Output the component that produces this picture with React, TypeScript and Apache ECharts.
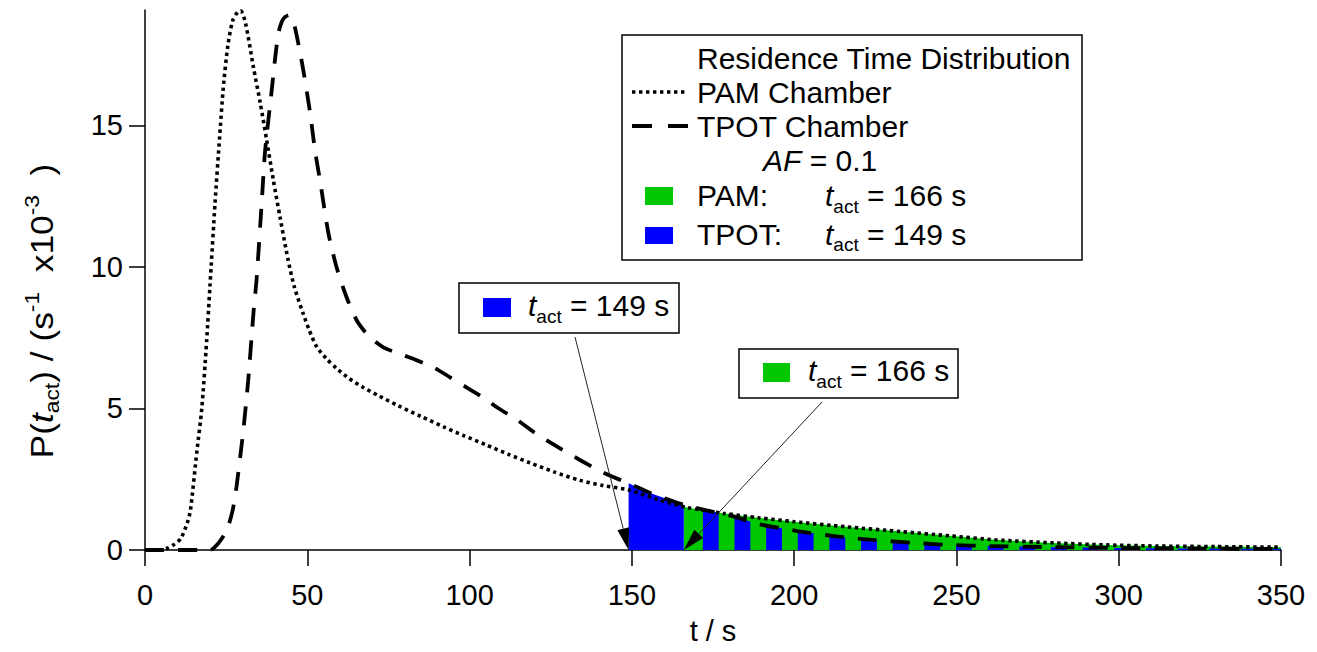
import React, { useEffect, useRef } from 'react';
import * as echarts from 'echarts';

const FONT = "'Liberation Sans', Arial, Helvetica, sans-serif";

const xTicks = [0, 50, 100, 150, 200, 250, 300, 350];
const yTicks = [0, 5, 10, 15];

// PAM chamber residence time distribution (dotted)
const pamTime = [0, 5, 7, 9, 11, 13, 14, 16, 17.5, 19, 20, 21.6, 23, 24.1, 25.5, 27, 28.5, 29.5, 31, 33.4, 35.5, 37.5, 39.5, 41.6, 44, 46, 48.7, 50.5, 52.9, 56, 59, 63, 67, 72, 78, 85, 92, 98, 105, 112, 118.6, 126, 134, 141, 149, 158, 167, 178, 189, 200, 216, 233, 248, 262, 280, 296, 312, 330, 350];
const pamValue = [0, 0, 0.07, 0.2, 0.4, 0.95, 1.4, 3.5, 5.0, 7.4, 9.3, 12.3, 14.6, 16.3, 17.8, 18.7, 19.0, 19.05, 18.6, 17.06, 15.8, 14.47, 13.1, 11.76, 10.3, 9.3, 8.36, 7.8, 7.18, 6.75, 6.42, 6.05, 5.76, 5.45, 5.1, 4.72, 4.35, 4.05, 3.72, 3.38, 3.08, 2.76, 2.46, 2.28, 2.12, 1.78, 1.5, 1.3, 1.14, 1.0, 0.82, 0.65, 0.5, 0.36, 0.25, 0.18, 0.14, 0.12, 0.1];

// TPOT chamber residence time distribution (dashed)
const tpotTime = [0, 20, 22.6, 25.2, 27, 28.2, 30.3, 31.8, 33.4, 34.4, 36, 37, 39, 41, 42.5, 44.3, 45.5, 46.7, 48.7, 50.8, 52.4, 54, 56.5, 59, 62.1, 65.3, 69, 73.3, 78, 83.8, 89, 94, 99, 104, 109, 114.6, 120, 127, 134, 140, 145, 149, 156, 166, 173, 181, 189, 201, 213, 225, 236, 248, 260, 280, 300, 325, 350];
const tpotValue = [0, 0, 0.24, 0.7, 1.4, 2.24, 4.24, 6.0, 8.35, 9.6, 12.35, 14.1, 16.2, 18.2, 18.75, 18.9, 18.75, 18.2, 17.0, 15.5, 14.1, 13.0, 11.2, 10.0, 8.93, 8.1, 7.55, 7.17, 6.95, 6.7, 6.45, 6.1, 5.75, 5.4, 5.0, 4.6, 4.15, 3.65, 3.18, 2.8, 2.54, 2.36, 2.0, 1.6, 1.4, 1.2, 0.92, 0.67, 0.48, 0.35, 0.26, 0.18, 0.14, 0.1, 0.07, 0.05, 0.04];

const pamTact = 166;
const tpotTact = 149;
const tEnd = 350;

const legendTitle = 'Residence Time Distribution';
const pamLabel = 'PAM Chamber';
const tpotLabel = 'TPOT Chamber';

const GREEN = '#00c800';
const BLUE = '#0000ff';

// hatch style of the overlapping region: alternating vertical stripes
const stripeOrigin = 167;
const stripeHalf = 4.875;

function interp(ts: number[], vs: number[], t: number) {
  if (t <= ts[0]) return vs[0];
  for (let i = 1; i < ts.length; i++) {
    if (t <= ts[i]) {
      const f = (t - ts[i - 1]) / (ts[i] - ts[i - 1]);
      return vs[i - 1] + f * (vs[i] - vs[i - 1]);
    }
  }
  return vs[vs.length - 1];
}

const curves: [number[], number[]][] = [
  [pamTime, pamValue],
  [tpotTime, tpotValue],
];
const fillColors = [GREEN, BLUE];

function buildFills() {
  const fills: number[][] = [];
  fills.push([pamTact, tEnd, 0, 0]);
  fills.push([tpotTact, pamTact, 1, 1]);
  for (let s = stripeOrigin + stripeHalf; s < tEnd; s += 2 * stripeHalf) {
    fills.push([s, Math.min(s + stripeHalf, tEnd), 1, 1]);
  }
  return fills;
}

export default function App() {
  const ref = useRef<HTMLDivElement>(null);
  useEffect(() => {
    const chart = echarts.init(ref.current!, null, { renderer: 'svg' });
    const axisColor = '#000';
    const option: any = {
      animation: false,
      backgroundColor: '#fff',
      grid: { left: 145, right: 36, top: 10, bottom: 102, containLabel: false },
      xAxis: {
        type: 'value',
        min: 0,
        max: 350,
        interval: 50,
        name: 't / s',
        nameLocation: 'middle',
        nameGap: 66,
        nameTextStyle: { fontSize: 29, fontFamily: FONT, color: '#000', lineHeight: 29 },
        axisLine: { lineStyle: { color: axisColor, width: 1.5 } },
        axisTick: { show: true, length: 16, lineStyle: { color: axisColor, width: 1.5 }, customValues: xTicks },
        axisLabel: { fontSize: 29, fontFamily: FONT, color: '#000', margin: 30, lineHeight: 29, customValues: xTicks },
        splitLine: { show: false },
      },
      yAxis: {
        type: 'value',
        min: 0,
        max: 19.08,
        axisLine: { show: true, lineStyle: { color: axisColor, width: 1.5 } },
        axisTick: { show: true, length: 16, lineStyle: { color: axisColor, width: 1.5 }, customValues: yTicks },
        axisLabel: { fontSize: 29, fontFamily: FONT, color: '#000', margin: 22, customValues: yTicks },
        splitLine: { show: false },
      },
      series: [
        {
          type: 'custom',
          coordinateSystem: 'cartesian2d',
          data: buildFills(),
          encode: { x: [0, 1] },
          silent: true,
          z: 1,
          renderItem: (params: any, api: any) => {
            const t0 = api.value(0);
            const t1 = api.value(1);
            const ci = api.value(2);
            const col = api.value(3);
            const [ts, vs] = curves[ci];
            const pts: number[][] = [];
            pts.push(api.coord([t0, 0]));
            pts.push(api.coord([t0, interp(ts, vs, t0)]));
            for (let i = 0; i < ts.length; i++) {
              if (ts[i] > t0 && ts[i] < t1) pts.push(api.coord([ts[i], vs[i]]));
            }
            pts.push(api.coord([t1, interp(ts, vs, t1)]));
            pts.push(api.coord([t1, 0]));
            return { type: 'polygon', shape: { points: pts }, style: { fill: fillColors[col], stroke: null } };
          },
        },
        {
          type: 'line',
          name: pamLabel,
          data: pamTime.map((t, i) => [t, pamValue[i]]),
          showSymbol: false,
          smooth: 0.25,
          z: 3,
          lineStyle: { color: '#000', width: 3.6, type: [3.4, 3.6], cap: 'butt' },
        },
        {
          type: 'line',
          name: tpotLabel,
          data: tpotTime.map((t, i) => [t, tpotValue[i]]),
          showSymbol: false,
          smooth: 0.25,
          z: 3,
          lineStyle: { color: '#000', width: 3.8, type: [19, 14], cap: 'butt' },
        },
      ],
    };
    chart.setOption(option);

    const tip1 = chart.convertToPixel({ gridIndex: 0 }, [tpotTact, 0]) as number[];
    const tip2 = chart.convertToPixel({ gridIndex: 0 }, [pamTact, 0]) as number[];

    const mainRich = {
      m: { fontSize: 30, fontFamily: FONT, lineHeight: 40, fill: '#000' },
      i: { fontSize: 30, fontFamily: FONT, fontStyle: 'italic', lineHeight: 40, fill: '#000' },
      s: { fontSize: 19, fontFamily: FONT, lineHeight: 20, verticalAlign: 'bottom', fill: '#000' },
      p: { fontSize: 18, fontFamily: FONT, lineHeight: 8, verticalAlign: 'top', fill: '#000' },
    };
    const txt = (x: number, y: number, text: string, extra: any = {}) => ({
      type: 'text',
      x,
      y,
      z: 20,
      style: { text, rich: mainRich, fontSize: 30, fontFamily: FONT, fill: '#000', align: 'left', verticalAlign: 'middle', ...extra },
    });

    const arrow = (x0: number, y0: number, tip: number[]) => {
      const dx = tip[0] - x0;
      const dy = tip[1] - y0;
      const len = Math.sqrt(dx * dx + dy * dy);
      const ux = dx / len, uy = dy / len;
      const hl = 22, hw = 6;
      const bx = tip[0] - hl * ux, by = tip[1] - hl * uy;
      return [
        { type: 'line', z: 15, shape: { x1: x0, y1: y0, x2: bx, y2: by }, style: { stroke: '#222', lineWidth: 1 } },
        {
          type: 'polygon', z: 15,
          shape: { points: [[tip[0], tip[1]], [bx - hw * uy, by + hw * ux], [bx + hw * uy, by - hw * ux]] },
          style: { fill: '#000' },
        },
      ];
    };

    const graphic: any[] = [
      // legend box
      { type: 'rect', z: 10, shape: { x: 622, y: 35, width: 460, height: 225 }, style: { fill: '#fff', stroke: '#000', lineWidth: 1.5 } },
      txt(697, 58.5, `{m|${legendTitle}}`),
      { type: 'line', z: 20, shape: { x1: 632, y1: 92, x2: 687, y2: 92 }, style: { stroke: '#000', lineWidth: 3.6, lineDash: [3.4, 3.6] } },
      txt(697, 92.5, `{m|${pamLabel}}`),
      { type: 'line', z: 20, shape: { x1: 632, y1: 126, x2: 688, y2: 126 }, style: { stroke: '#000', lineWidth: 3.8, lineDash: [20, 16] } },
      txt(697, 126.5, `{m|${tpotLabel}}`),
      txt(763, 160.5, `{i|AF}{m| = 0.1}`),
      { type: 'rect', z: 20, shape: { x: 645, y: 187, width: 28, height: 18 }, style: { fill: GREEN } },
      txt(697, 195.5, `{m|PAM:}`),
      txt(825, 195.5, `{i|t}{s|act}{m| = ${pamTact} s}`),
      { type: 'rect', z: 20, shape: { x: 645, y: 227, width: 28, height: 17 }, style: { fill: BLUE } },
      txt(697, 234, `{m|TPOT:}`),
      txt(825, 234, `{i|t}{s|act}{m| = ${tpotTact} s}`),
      // annotation box TPOT
      { type: 'rect', z: 10, shape: { x: 459, y: 283, width: 220, height: 50 }, style: { fill: '#fff', stroke: '#000', lineWidth: 1.5 } },
      { type: 'rect', z: 20, shape: { x: 483, y: 298, width: 28, height: 19 }, style: { fill: BLUE } },
      txt(528, 305.5, `{i|t}{s|act}{m| = ${tpotTact} s}`),
      // annotation box PAM
      { type: 'rect', z: 10, shape: { x: 739, y: 349, width: 219, height: 49 }, style: { fill: '#fff', stroke: '#000', lineWidth: 1.5 } },
      { type: 'rect', z: 20, shape: { x: 763, y: 363, width: 27, height: 19 }, style: { fill: GREEN } },
      txt(808, 370.5, `{i|t}{s|act}{m| = ${pamTact} s}`),
      ...arrow(575, 337, tip1),
      ...arrow(822, 402, tip2),
      // y axis title (rotated)
      {
        type: 'text', z: 20, x: 42, y: 311, rotation: Math.PI / 2, scaleX: 1.14,
        style: {
          text: '{m|P(}{i|t}{s|act}{m|) / (s}{p|-1}{m|  x10}{p|-3}{m|  )}',
          rich: {
            m: { fontSize: 31, fontFamily: FONT, lineHeight: 40, fill: '#000' },
            i: { fontSize: 31, fontFamily: FONT, fontStyle: 'italic', lineHeight: 40, fill: '#000' },
            s: { fontSize: 20, fontFamily: FONT, lineHeight: 20, verticalAlign: 'bottom', fill: '#000' },
            p: { fontSize: 20, fontFamily: FONT, lineHeight: 6, verticalAlign: 'top', fill: '#000' },
          },
          align: 'center', verticalAlign: 'middle',
        },
      },
    ];
    chart.setOption({ graphic });
    return () => chart.dispose();
  }, []);
  return <div ref={ref} style={{ position: 'fixed', left: 0, top: 0, width: 1317, height: 652 }} />;
}
